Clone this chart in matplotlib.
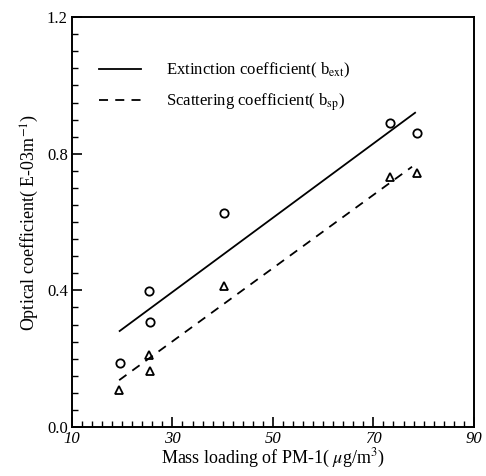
import matplotlib
matplotlib.use("Agg")
import matplotlib.pyplot as plt
from matplotlib.ticker import MultipleLocator

plt.rcParams['font.family'] = ['Liberation Serif', 'DejaVu Serif']
plt.rcParams['mathtext.fontset'] = 'stix'

# Data
mass_x = [19.5, 25.3, 25.6, 40.2, 73.3, 78.7]
ext_vals = [0.186, 0.398, 0.306, 0.627, 0.889, 0.862]
mass_x_sca = [19.4, 25.3, 25.5, 40.2, 73.3, 78.7]
sca_vals = [0.108, 0.211, 0.165, 0.413, 0.731, 0.744]
fit_x_ext = [19.5, 78.3]
fit_ext = [0.281, 0.920]
fit_x_sca = [19.4, 77.7]
fit_sca = [0.137, 0.762]
x_ticks = [10, 30, 50, 70, 90]
y_ticks = [0.0, 0.4, 0.8, 1.2]

fig = plt.figure(figsize=(4.86, 4.76), dpi=100)
ax = fig.add_axes([0.148, 0.103, 0.827, 0.861])

ax.plot(mass_x, ext_vals, linestyle='none', marker='o', markersize=6,
        markerfacecolor='white', markeredgecolor='black', markeredgewidth=1.3)
ax.plot(mass_x_sca, sca_vals, linestyle='none', marker='^', markersize=6,
        markerfacecolor='white', markeredgecolor='black', markeredgewidth=1.3)
l1, = ax.plot(fit_x_ext, fit_ext, color='black', lw=1.3, linestyle='-')
l2, = ax.plot(fit_x_sca, fit_sca, color='black', lw=1.3, linestyle=(0, (5, 4)))

ax.set_xlim(10, 90)
ax.set_ylim(0.0, 1.2)
ax.set_xticks(x_ticks)
ax.set_yticks(y_ticks)
ax.xaxis.set_minor_locator(MultipleLocator(2))
ax.yaxis.set_minor_locator(MultipleLocator(0.05))
ax.set_xticklabels([str(v) for v in x_ticks], fontstyle='italic', fontsize=12)
ax.set_yticklabels([f"{v:.1f}" for v in y_ticks], fontsize=12)
ax.tick_params(which='major', direction='in', length=7, width=1.2)
ax.tick_params(which='minor', direction='in', length=4, width=1.0)
ax.tick_params(axis='x', which='major', pad=3)
ax.tick_params(axis='y', which='major', pad=3)
for lab in ax.get_yticklabels():
    lab.set_verticalalignment('center_baseline')
for s in ax.spines.values():
    s.set_linewidth(1.4)

ax.set_xlabel(r"Mass loading of PM-1( $\mathit{\mu}$g/m$^{3}$)", fontsize=13, labelpad=0)
ax.set_ylabel(r"Optical coefficient( E-03m$^{-1}$)", fontsize=13, labelpad=4)

leg = ax.legend([l1, l2],
                [r"Extinction coefficient( b$_{\mathrm{ext}}$)",
                 r"Scattering coefficient( b$_{\mathrm{sp}}$)"],
                loc='upper left', bbox_to_anchor=(0.03, 0.93), frameon=False,
                fontsize=12, handlelength=2.5, handletextpad=1.5, labelspacing=0.7)

fig.savefig("out.png", dpi=100)
